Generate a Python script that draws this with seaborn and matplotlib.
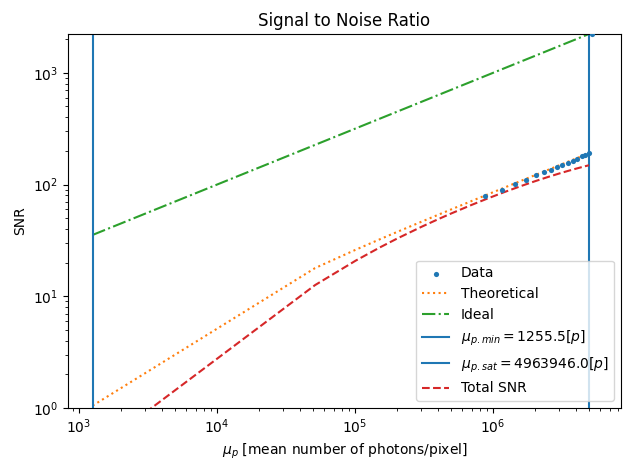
import matplotlib
matplotlib.use("Agg")
import matplotlib.pyplot as plt
import seaborn as sns
import numpy as np

# ---- data ----
mu_min = 1255.5
mu_sat = 4963946.0

data_mu = [8.75e5, 1.16e6, 1.445e6, 1.735e6, 2.04e6, 2.33e6, 2.62e6, 2.905e6,
           3.19e6, 3.48e6, 3.775e6, 4.07e6, 4.40e6, 4.68e6, 4.96e6, 5.2e6]
data_snr = [78.5, 90.0, 101.5, 111.0, 121.5, 129.0, 136.0, 144.0,
            151.0, 157.0, 164.0, 170.5, 178.5, 184.5, 190.5, 2228.0]

curve_mu = [1255.5, 51380, 101510, 151640, 201760, 302020, 402270, 502530,
            703030, 903540, 1204300, 1605300, 2006300, 2507600, 3008900,
            3510100, 4011400, 4512700, 4963946]
theo_snr = [1.05, 17.89, 26.15, 32.41, 37.66, 46.41, 53.76, 60.22,
            71.41, 81.08, 93.72, 108.31, 121.16, 135.51, 148.48,
            160.41, 171.51, 181.93, 190.83]
total_snr = [0.402, 12.60, 20.90, 27.40, 32.84, 41.77, 49.10, 55.38,
             65.91, 74.62, 85.48, 97.25, 106.93, 117.00, 125.45,
             132.68, 138.97, 144.51, 148.97]

ideal_mu = [1255.5, 4963946]
ideal_snr = [35.43, 2228.0]

fig = plt.figure(figsize=(6.26, 4.62), dpi=100)
ax = fig.add_axes([68/626, 1-408/462, (621-68)/626, (408-34)/462])

sns.scatterplot(x=data_mu, y=data_snr, marker='o', s=14, color='C0',
                linewidth=0, label='Data', ax=ax, zorder=3)
sns.lineplot(x=curve_mu, y=theo_snr, color='C1', linestyle=':', linewidth=1.5,
             label='Theoretical', ax=ax, sort=False, estimator=None)
sns.lineplot(x=ideal_mu, y=ideal_snr, color='C2', linestyle='-.', linewidth=1.5,
             label='Ideal', ax=ax, sort=False, estimator=None)
ax.axvline(mu_min, color='C0', linewidth=1.5,
           label=r'$\mu_{p.min} = %.1f[p]$' % mu_min)
ax.axvline(mu_sat, color='C0', linewidth=1.5,
           label=r'$\mu_{p.sat} = %.1f[p]$' % mu_sat)
sns.lineplot(x=curve_mu, y=total_snr, color='C3', linestyle='--', linewidth=1.5,
             label='Total SNR', ax=ax, sort=False, estimator=None)

ax.set_xscale('log')
ax.set_yscale('log')
ax.set_xlim(832, 8.47e6)
ax.set_ylim(1, 2228)
ax.set_title('Signal to Noise Ratio')
ax.set_xlabel(r'$\mu_p$ [mean number of photons/pixel]')
ax.set_ylabel('SNR')
ax.legend(loc='lower right')

fig.savefig('out.png', dpi=100)
